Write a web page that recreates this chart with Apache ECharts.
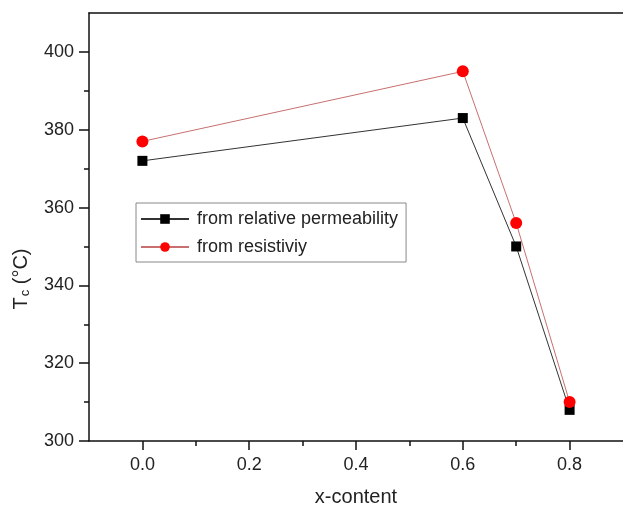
<!DOCTYPE html>
<html>
<head>
<meta charset="utf-8">
<script src="https://cdn.jsdelivr.net/npm/echarts@6/dist/echarts.min.js"></script>
<style>
  html, body { margin: 0; padding: 0; background: #fff; }
  #chart { width: 623px; height: 512px; }
</style>
</head>
<body>
<div id="chart"></div>
<script>
// data
var xContent = [0.0, 0.6, 0.7, 0.8];
var tcPermeability = [372, 383, 350, 308];
var tcResistivity = [377, 395, 356, 310];

var xMajor = [0, 0.2, 0.4, 0.6, 0.8];
var xMinor = [0.1, 0.3, 0.5, 0.7];
var yMajor = [300, 320, 340, 360, 380, 400];
var yMinor = [310, 330, 350, 370, 390];

function pairs(xs, ys) {
    var out = [];
    for (var i = 0; i < xs.length; i++) {
        out.push([xs[i], ys[i]]);
    }
    return out;
}

var font = 'Liberation Sans, Arial, sans-serif';
var axisColor = '#111';

var chart = echarts.init(document.getElementById('chart'), null, {renderer: 'canvas'});

var option = {
    backgroundColor: '#fff',
    animation: false,
    textStyle: {fontFamily: font},
    grid: {left: 89, top: 13, right: -4, bottom: 67},
    legend: {
        orient: 'vertical',
        left: 136,
        top: 203,
        padding: [7, 8, 6, 4],
        itemGap: 10,
        itemWidth: 48,
        itemHeight: 12,
        borderColor: '#888',
        borderWidth: 1,
        textStyle: {fontSize: 18, color: '#222', lineHeight: 18, padding: [0, 0, 0, 3], fontFamily: font},
        data: ['from relative permeability', 'from resistiviy']
    },
    xAxis: [{
        type: 'value',
        min: -0.1,
        max: 0.9,
        name: 'x-content',
        nameLocation: 'middle',
        nameGap: 46,
        nameTextStyle: {fontSize: 20, color: '#222', fontFamily: font},
        axisLine: {onZero: false, lineStyle: {color: axisColor, width: 1.5}},
        axisTick: {show: true, length: 9, customValues: xMajor, lineStyle: {color: axisColor, width: 1.5}},
        axisLabel: {fontSize: 18, color: '#222', margin: 15, customValues: xMajor,
            formatter: function (v) { return v.toFixed(1); }},
        splitLine: {show: false}
    }, {
        // minor ticks on the bottom axis
        type: 'value',
        position: 'bottom',
        min: -0.1,
        max: 0.9,
        axisLine: {show: false, onZero: false},
        axisTick: {show: true, length: 5, customValues: xMinor, lineStyle: {color: axisColor, width: 1.5}},
        axisLabel: {show: false},
        splitLine: {show: false}
    }, {
        // top frame line
        type: 'value',
        position: 'top',
        min: -0.1,
        max: 0.9,
        axisLine: {onZero: false, lineStyle: {color: axisColor, width: 1.5}},
        axisTick: {show: false},
        axisLabel: {show: false},
        splitLine: {show: false}
    }],
    yAxis: [{
        type: 'value',
        min: 300,
        max: 410,
        name: '{a|T}{b|c}{a| (°C)}',
        nameLocation: 'middle',
        nameGap: 57,
        nameRotate: 90,
        nameTextStyle: {
            color: '#222',
            // title sits below the middle of the axis in the original
            padding: [0, 104, 0, 0],
            rich: {
                a: {fontSize: 20, color: '#222', fontFamily: font, lineHeight: 22},
                b: {fontSize: 13, color: '#222', fontFamily: font, verticalAlign: 'bottom', lineHeight: 22, padding: [8, 0, 0, 1]}
            }
        },
        axisLine: {show: true, onZero: false, lineStyle: {color: axisColor, width: 1.5}},
        axisTick: {show: true, length: 10, customValues: yMajor, lineStyle: {color: axisColor, width: 1.5}},
        axisLabel: {fontSize: 18, color: '#222', margin: 15, customValues: yMajor},
        splitLine: {show: false}
    }, {
        // minor ticks on the left axis
        type: 'value',
        position: 'left',
        min: 300,
        max: 410,
        axisLine: {show: false, onZero: false},
        axisTick: {show: true, length: 5, customValues: yMinor, lineStyle: {color: axisColor, width: 1.5}},
        axisLabel: {show: false},
        splitLine: {show: false}
    }],
    series: [{
        name: 'from relative permeability',
        type: 'line',
        data: pairs(xContent, tcPermeability),
        symbol: 'rect',
        symbolSize: 10,
        itemStyle: {color: '#000'},
        lineStyle: {color: '#333', width: 1}
    }, {
        name: 'from resistiviy',
        type: 'line',
        data: pairs(xContent, tcResistivity),
        symbol: 'circle',
        symbolSize: 12,
        itemStyle: {color: '#ff0000'},
        lineStyle: {color: '#c87070', width: 1}
    }]
};

chart.setOption(option);
</script>
</body>
</html>
